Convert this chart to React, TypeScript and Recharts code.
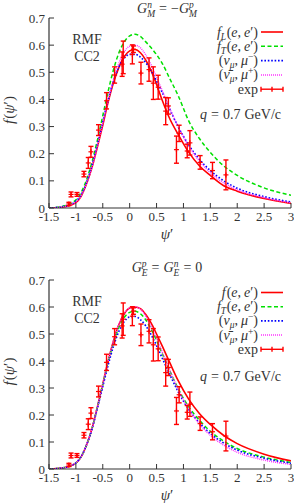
import React from "react"
import { ComposedChart, Line, Scatter, ErrorBar, XAxis, YAxis } from "recharts"

const psiGrid = [-1.5, -1.25, -1.0, -0.9, -0.8, -0.7, -0.6, -0.5, -0.4, -0.3, -0.2, -0.1, 0, 0.1, 0.2, 0.3, 0.4, 0.5, 0.6, 0.75, 0.9, 1.1, 1.3, 1.5, 1.75, 2.0, 2.5, 3.0]

// upper panel: G_M^n = -G_M^p
const topFL = [0, 0.003, 0.02, 0.044, 0.09, 0.15, 0.225, 0.305, 0.39, 0.462, 0.518, 0.558, 0.579, 0.584, 0.572, 0.545, 0.505, 0.455, 0.4, 0.327, 0.272, 0.205, 0.155, 0.12, 0.082, 0.062, 0.035, 0.017]
const topFT = [0, 0.006, 0.03, 0.058, 0.105, 0.17, 0.25, 0.34, 0.43, 0.51, 0.572, 0.612, 0.634, 0.64, 0.632, 0.612, 0.59, 0.565, 0.535, 0.475, 0.415, 0.32, 0.255, 0.205, 0.155, 0.12, 0.074, 0.047]
const topNu = [0, 0.005, 0.025, 0.05, 0.095, 0.157, 0.235, 0.318, 0.398, 0.468, 0.52, 0.552, 0.566, 0.566, 0.556, 0.535, 0.505, 0.468, 0.428, 0.362, 0.3, 0.232, 0.178, 0.138, 0.1, 0.073, 0.042, 0.022]
const topNuBar = [0, 0.004, 0.022, 0.046, 0.09, 0.15, 0.228, 0.312, 0.397, 0.472, 0.534, 0.576, 0.596, 0.6, 0.59, 0.564, 0.527, 0.482, 0.435, 0.365, 0.3, 0.228, 0.172, 0.13, 0.092, 0.067, 0.038, 0.019]

// lower panel: G_E^p = G_E^n = 0
const botF = [0, 0.004, 0.022, 0.046, 0.09, 0.15, 0.23, 0.315, 0.4, 0.475, 0.535, 0.575, 0.596, 0.6, 0.594, 0.572, 0.54, 0.5, 0.458, 0.392, 0.328, 0.258, 0.205, 0.165, 0.124, 0.094, 0.055, 0.03]
const botFT = [0, 0.004, 0.022, 0.046, 0.09, 0.15, 0.23, 0.313, 0.397, 0.468, 0.525, 0.562, 0.58, 0.584, 0.575, 0.552, 0.518, 0.476, 0.43, 0.362, 0.298, 0.23, 0.18, 0.14, 0.103, 0.076, 0.044, 0.024]
const botNu = [0, 0.004, 0.023, 0.047, 0.09, 0.148, 0.225, 0.305, 0.385, 0.455, 0.51, 0.546, 0.563, 0.565, 0.553, 0.53, 0.497, 0.457, 0.413, 0.348, 0.287, 0.22, 0.17, 0.132, 0.096, 0.07, 0.04, 0.021]
const botNuBar = [0, 0.004, 0.022, 0.046, 0.09, 0.15, 0.23, 0.315, 0.4, 0.476, 0.536, 0.576, 0.597, 0.601, 0.592, 0.566, 0.528, 0.484, 0.436, 0.364, 0.295, 0.222, 0.166, 0.125, 0.088, 0.062, 0.033, 0.017]

// experimental scaling data (same in both panels)
const expPsi = [-1.13, -1.09, -0.98, -0.85, -0.77, -0.72, -0.58, -0.43, -0.28, -0.14, -0.12, 0.05, 0.07, 0.21, 0.36, 0.44, 0.53, 0.67, 0.72, 0.87, 0.92, 1.07, 1.12, 1.31, 1.54, 1.79]
const expF = [0.015, 0.05, 0.05, 0.125, 0.166, 0.207, 0.287, 0.395, 0.49, 0.53, 0.555, 0.566, 0.585, 0.497, 0.51, 0.46, 0.445, 0.357, 0.376, 0.215, 0.275, 0.21, 0.24, 0.168, 0.138, 0.122]
const expErr = [0.006, 0.009, 0.007, 0.01, 0.02, 0.02, 0.02, 0.03, 0.03, 0.045, 0.06, 0.035, 0.012, 0.04, 0.043, 0.06, 0.044, 0.05, 0.03, 0.05, 0.03, 0.025, 0.045, 0.025, 0.03, 0.055]

const xTicks = [-1.5, -1, -0.5, 0, 0.5, 1, 1.5, 2, 2.5, 3]
const yTicks = [0, 0.1, 0.2, 0.3, 0.4, 0.5, 0.6, 0.7]

const topRows = psiGrid.map((psi, i) => ({ psi, a: topFL[i], b: topFT[i], c: topNu[i], d: topNuBar[i] }))
const botRows = psiGrid.map((psi, i) => ({ psi, a: botF[i], b: botFT[i], c: botNu[i], d: botNuBar[i] }))
const expRows = expPsi.map((psi, i) => ({ psi, f: expF[i], err: expErr[i] }))

const FONT = "'Liberation Serif', 'Times New Roman', serif"
const TXT = "#333"
const AX = "#333"
const RED = "#ff0000"
const GREEN = "#00e000"
const BLUE = "#0000ff"
const MAGENTA = "#ff33ff"

const BottomTick = (p: any) => (
  <g>
    <line x1={p.x} y1={p.y} x2={p.x} y2={p.y - 5} stroke={AX} />
    <text x={p.x} y={p.y + 13} textAnchor="middle" fontSize={13} fontFamily={FONT} fill={TXT}>{p.payload.value}</text>
  </g>
)
const TopTick = (p: any) => <line x1={p.x} y1={p.y} x2={p.x} y2={p.y + 5} stroke={AX} />
const LeftTick = (p: any) => (
  <g>
    <line x1={p.x} y1={p.y} x2={p.x + 5} y2={p.y} stroke={AX} />
    <text x={p.x - 4} y={p.y + 4.5} textAnchor="end" fontSize={13} fontFamily={FONT} fill={TXT}>{p.payload.value}</text>
  </g>
)
const RightTick = (p: any) => <line x1={p.x} y1={p.y} x2={p.x - 5} y2={p.y} stroke={AX} />

const Plus = (p: any) => (
  <g stroke={RED} strokeWidth={1.2}>
    <line x1={p.cx - 2.5} y1={p.cy} x2={p.cx + 2.5} y2={p.cy} />
    <line x1={p.cx} y1={p.cy - 2.5} x2={p.cx} y2={p.cy + 2.5} />
  </g>
)

function Panel({ rows, top, axisHeight }: { rows: any[]; top: number; axisHeight: number }) {
  return (
    <ComposedChart width={294} height={252} data={rows} margin={{ top, right: 3, bottom: 0, left: 0 }}>
      <XAxis xAxisId="b" dataKey="psi" type="number" domain={[-1.5, 3]} ticks={xTicks} interval={0}
        height={axisHeight} tickSize={0} tickMargin={0} tickLine={false} tick={BottomTick}
        axisLine={{ stroke: AX, strokeWidth: 1.2 }} allowDataOverflow />
      <XAxis xAxisId="t" orientation="top" dataKey="psi" type="number" domain={[-1.5, 3]} ticks={xTicks} interval={0}
        height={0} tickSize={0} tickMargin={0} tickLine={false} tick={TopTick}
        axisLine={{ stroke: AX, strokeWidth: 1.2 }} allowDataOverflow />
      <YAxis yAxisId="l" type="number" domain={[0, 0.7]} ticks={yTicks} interval={0} width={49}
        tickSize={0} tickMargin={0} tickLine={false} tick={LeftTick} axisLine={{ stroke: AX, strokeWidth: 1.2 }} allowDataOverflow />
      <YAxis yAxisId="r" orientation="right" type="number" domain={[0, 0.7]} ticks={yTicks} interval={0} width={0}
        tickSize={0} tickMargin={0} tickLine={false} tick={RightTick} axisLine={{ stroke: AX, strokeWidth: 1.2 }} allowDataOverflow />
      <Line xAxisId="b" yAxisId="l" type="monotone" dataKey="a" stroke={RED} strokeWidth={1.6} dot={false} isAnimationActive={false} />
      <Line xAxisId="b" yAxisId="l" type="monotone" dataKey="b" stroke={GREEN} strokeWidth={1.5} strokeDasharray="4 2.5" dot={false} isAnimationActive={false} />
      <Line xAxisId="b" yAxisId="l" type="monotone" dataKey="c" stroke={BLUE} strokeWidth={1.6} strokeDasharray="1.6 1.8" dot={false} isAnimationActive={false} />
      <Line xAxisId="b" yAxisId="l" type="monotone" dataKey="d" stroke={MAGENTA} strokeWidth={1.5} strokeDasharray="1 1" dot={false} isAnimationActive={false} />
      <Line xAxisId="t" yAxisId="r" dataKey="a" stroke="none" dot={false} isAnimationActive={false} />
      <Scatter xAxisId="b" yAxisId="l" data={expRows} dataKey="f" shape={Plus} isAnimationActive={false}>
        <ErrorBar dataKey="err" direction="y" width={2.5} stroke={RED} strokeWidth={1.4} />
      </Scatter>
    </ComposedChart>
  )
}

const T = { fontFamily: FONT, fontSize: 14, fill: TXT }
const S = 9.5

function Legend({ y0, step, first }: { y0: number; step: number; first: React.ReactNode }) {
  const x = 258
  const rows = [y0, y0 + step, y0 + 2 * step, y0 + 3 * step, y0 + 4 * step]
  return (
    <g>
      <text {...T} x={x} y={rows[0] + 4.5} textAnchor="end">{first}</text>
      <line x1={261} x2={283} y1={rows[0]} y2={rows[0]} stroke={RED} strokeWidth={1.6} />
      <text {...T} x={x} y={rows[1] + 4.5} textAnchor="end">
        <tspan fontStyle="italic">f</tspan><tspan fontStyle="italic" fontSize={S} dy={3}>T</tspan><tspan dy={-3} dx={0.5}>(</tspan><tspan fontStyle="italic">e</tspan><tspan>,</tspan><tspan fontStyle="italic" dx={3}>e</tspan><tspan>′)</tspan>
      </text>
      <line x1={261} x2={283} y1={rows[1]} y2={rows[1]} stroke={GREEN} strokeWidth={1.5} strokeDasharray="4 2.5" />
      <text {...T} x={x} y={rows[2] + 4.5} textAnchor="end">
        <tspan>(</tspan><tspan fontStyle="italic">ν</tspan><tspan fontStyle="italic" fontSize={S} dy={3}>μ</tspan><tspan dy={-3}>,</tspan><tspan fontStyle="italic" dx={3}>μ</tspan><tspan fontSize={S} dy={-5}>−</tspan><tspan dy={5}>)</tspan>
      </text>
      <line x1={261} x2={283} y1={rows[2]} y2={rows[2]} stroke={BLUE} strokeWidth={1.6} strokeDasharray="1.6 1.8" />
      <text {...T} x={x} y={rows[3] + 4.5} textAnchor="end">
        <tspan>(</tspan><tspan fontStyle="italic">ν̄</tspan><tspan fontStyle="italic" fontSize={S} dy={3}>μ</tspan><tspan dy={-3}>,</tspan><tspan fontStyle="italic" dx={3}>μ</tspan><tspan fontSize={S} dy={-5}>+</tspan><tspan dy={5}>)</tspan>
      </text>
      <line x1={261} x2={283} y1={rows[3]} y2={rows[3]} stroke={MAGENTA} strokeWidth={1.5} strokeDasharray="1 1" />
      <text {...T} x={x} y={rows[4] + 4.5} textAnchor="end">exp</text>
      <g stroke={RED} strokeWidth={1.4}>
        <line x1={261} x2={283} y1={rows[4]} y2={rows[4]} />
        <line x1={261} x2={261} y1={rows[4] - 2.5} y2={rows[4] + 2.5} />
        <line x1={283} x2={283} y1={rows[4] - 2.5} y2={rows[4] + 2.5} />
        <line x1={272} x2={272} y1={rows[4] - 2.5} y2={rows[4] + 2.5} />
      </g>
    </g>
  )
}

function Notes({ plotTop, plotBottom, title, titleY, legendY, legendStep, first }: any) {
  const mid = (plotTop + plotBottom) / 2
  return (
    <svg width={294} height={252} style={{ position: "absolute", left: 0, top: 0, pointerEvents: "none" }}>
      <text {...T} x={167} y={titleY} textAnchor="middle">{title}</text>
      <text {...T} fontSize={15} x={0} y={0} textAnchor="middle" transform={`translate(14, ${mid - 3}) rotate(-90)`}>
        <tspan fontStyle="italic">f</tspan><tspan dx={1}>(</tspan><tspan fontStyle="italic">ψ</tspan><tspan>′)</tspan>
      </text>
      <text {...T} fontSize={15} x={167} y={plotBottom + 31} textAnchor="middle">
        <tspan fontStyle="italic">ψ</tspan><tspan>′</tspan>
      </text>
      <text {...T} x={87} y={plotTop + 26} textAnchor="middle">RMF</text>
      <text {...T} x={87} y={plotTop + 43} textAnchor="middle">CC2</text>
      <text {...T} x={281} y={plotTop + 101} textAnchor="end">
        <tspan fontStyle="italic">q</tspan><tspan dx={4}>=</tspan><tspan dx={4}>0.7</tspan><tspan dx={4}>GeV/c</tspan>
      </text>
      <Legend y0={legendY} step={legendStep} first={first} />
    </svg>
  )
}

export default function App() {
  return (
    <div style={{ position: "absolute", left: 0, top: 0, width: 294, height: 504, background: "#fff" }}>
      <div style={{ position: "absolute", left: 0, top: 0, width: 294, height: 252 }}>
        <Panel rows={topRows} top={18} axisHeight={44} />
        <Notes
          plotTop={18}
          plotBottom={208}
          titleY={13}
          legendY={32}
          legendStep={14.3}
          title={
            <>
              <tspan fontStyle="italic">G</tspan><tspan fontStyle="italic" fontSize={S} dy={-5}>n</tspan><tspan fontStyle="italic" fontSize={S} dx={-4.8} dy={9}>M</tspan><tspan dy={-4} dx={4}>=</tspan><tspan dx={4}>−</tspan><tspan fontStyle="italic">G</tspan><tspan fontStyle="italic" fontSize={S} dy={-5}>p</tspan><tspan fontStyle="italic" fontSize={S} dx={-4.8} dy={9}>M</tspan>
            </>
          }
          first={
            <>
              <tspan fontStyle="italic">f</tspan><tspan fontStyle="italic" fontSize={S} dy={3}>L</tspan><tspan dy={-3} dx={0.5}>(</tspan><tspan fontStyle="italic">e</tspan><tspan>,</tspan><tspan fontStyle="italic" dx={3}>e</tspan><tspan>′)</tspan>
            </>
          }
        />
      </div>
      <div style={{ position: "absolute", left: 0, top: 252, width: 294, height: 252 }}>
        <Panel rows={botRows} top={28} axisHeight={35} />
        <Notes
          plotTop={28}
          plotBottom={217}
          titleY={20}
          legendY={40.5}
          legendStep={14.2}
          title={
            <>
              <tspan fontStyle="italic">G</tspan><tspan fontStyle="italic" fontSize={S} dy={-5}>p</tspan><tspan fontStyle="italic" fontSize={S} dx={-4.8} dy={9}>E</tspan><tspan dy={-4} dx={4}>=</tspan><tspan fontStyle="italic" dx={4}>G</tspan><tspan fontStyle="italic" fontSize={S} dy={-5}>n</tspan><tspan fontStyle="italic" fontSize={S} dx={-4.8} dy={9}>E</tspan><tspan dy={-4} dx={4}>=</tspan><tspan dx={4}>0</tspan>
            </>
          }
          first={
            <>
              <tspan fontStyle="italic">f</tspan><tspan dx={1}>(</tspan><tspan fontStyle="italic">e</tspan><tspan>,</tspan><tspan fontStyle="italic" dx={3}>e</tspan><tspan>′)</tspan>
            </>
          }
        />
      </div>
    </div>
  )
}
